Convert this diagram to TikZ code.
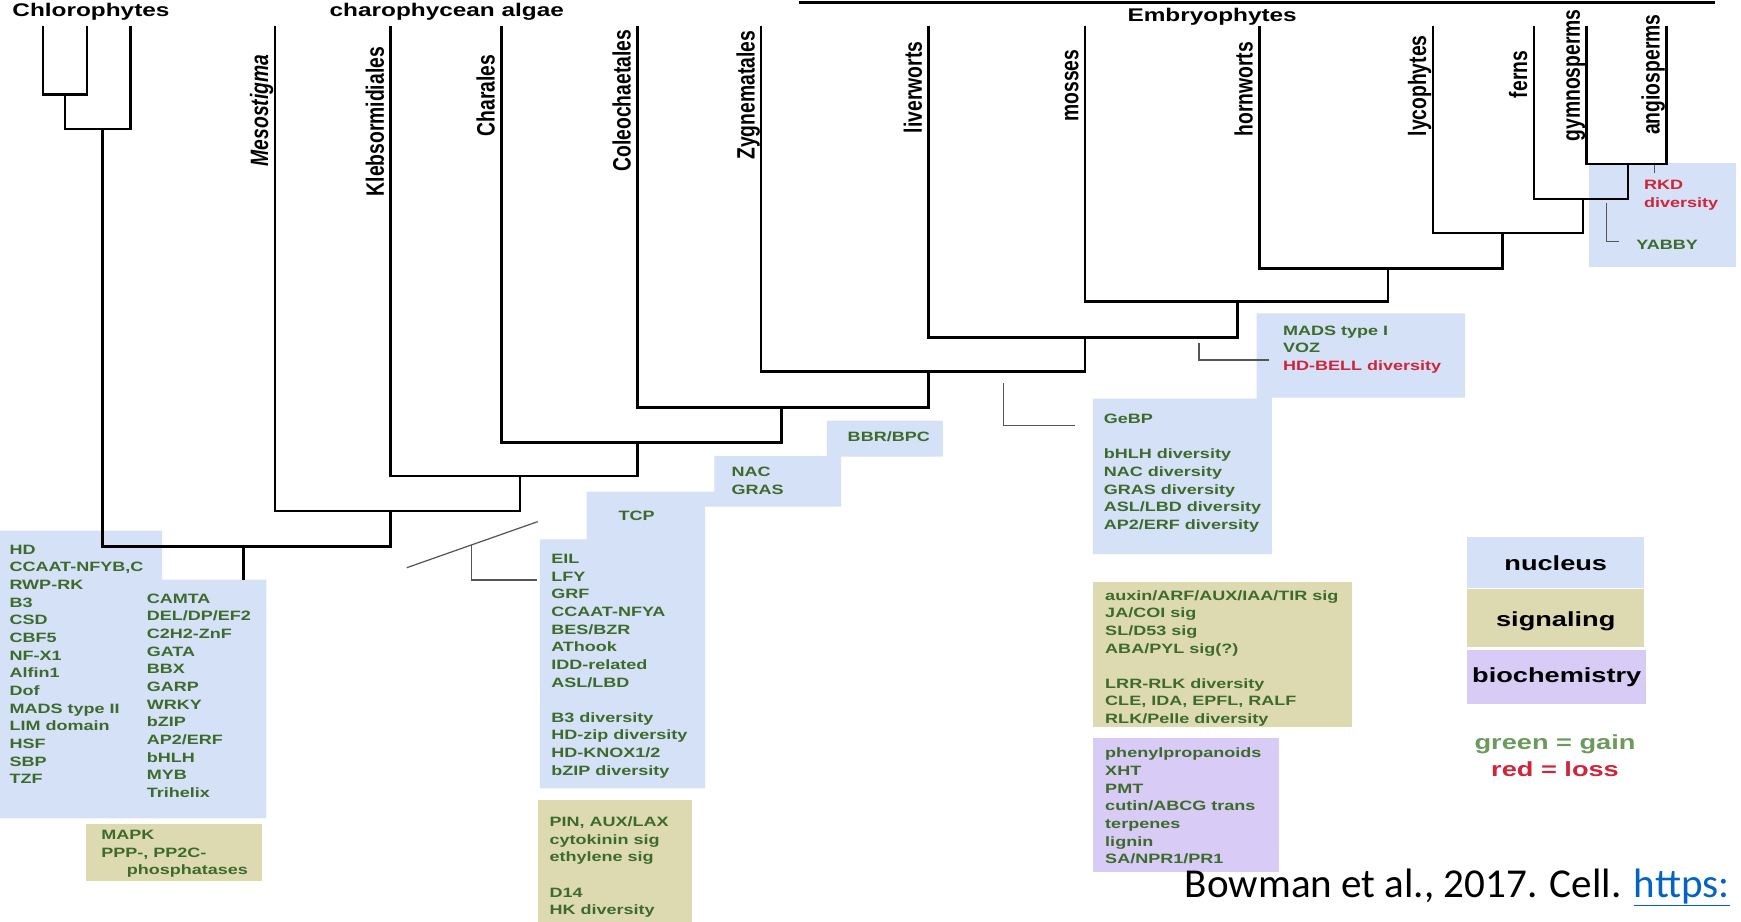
\documentclass[tikz,border=0pt]{standalone}
\usepackage{fontspec}
\usepackage{graphicx}
\usetikzlibrary{calc}
\newfontfamily\figfont[FakeStretch=1.33]{Liberation Sans}
\newfontfamily\tipfont{Liberation Sans}
\newfontfamily\citefont{Carlito}
\definecolor{nucblue}{HTML}{D5E1F6}
\definecolor{sigkhaki}{HTML}{DDDAB2}
\definecolor{biolav}{HTML}{D8CBF5}
\definecolor{gaingreen}{HTML}{3D6B2C}
\definecolor{legendgreen}{HTML}{6A9A5C}
\definecolor{lossred}{HTML}{D0243A}
\definecolor{hintgray}{HTML}{555555}
\definecolor{linkblue}{HTML}{0563C1}
\newcommand{\vstretch}[1]{\scalebox{1}[1.3]{#1}}

\begin{document}
\begin{tikzpicture}[x=1pt, y=-1pt]
  \tikzstyle{tree} = [line width=2.2pt]
  \tikzstyle{hint} = [draw=hintgray, line width=1.1pt]
  \tikzstyle{genes} = [anchor=north west, inner sep=0pt, align=left, text=gaingreen, font=\fontsize{12.2}{15.9}\figfont\bfseries]
  \tikzstyle{tiplabel} = [rotate=90, anchor=base west, inner sep=0pt, font=\fontsize{17.4}{20}\tipfont\bfseries]
  \tikzstyle{clade} = [anchor=base, inner sep=0pt, font=\fontsize{16.5}{20}\figfont\bfseries]
  \tikzstyle{legbox} = [minimum width=159pt, inner sep=0pt, font=\fontsize{18.4}{22}\figfont\bfseries]

  \fill[white] (0,0) rectangle (1568,830);
  \useasboundingbox (0,0) rectangle (1568,830);

  % coloured boxes
  \fill[nucblue] (0,478) -- (146,478) -- (146,522) -- (240,522) -- (240,737) -- (0,737) -- cycle;
  \fill[nucblue] (486.4,710) -- (486.4,485.7) -- (528.3,485.7) -- (528.3,442.8) -- (643.3,442.8) -- (643.3,410.7)
    -- (744.7,410.7) -- (744.7,378.9) -- (849.2,378.9) -- (849.2,411.3) -- (757.5,411.3) -- (757.5,456.3)
    -- (635,456.3) -- (635,710) -- cycle;
  \fill[nucblue] (984.3,499) -- (984.3,359) -- (1131.8,359) -- (1131.8,282.2) -- (1319.5,282.2) -- (1319.5,358)
    -- (1145.4,358) -- (1145.4,499) -- cycle;
  \fill[nucblue] (1431.2,147.1) rectangle (1563.6,240.2);
  \fill[sigkhaki] (77.5,742) rectangle (236,793);
  \fill[sigkhaki] (484.2,720.5) rectangle (623,830);
  \fill[sigkhaki] (984.7,523.9) rectangle (1217.4,654.5);
  \fill[biolav] (984.7,665) rectangle (1152.3,785);

  % tips
  \coordinate (chl1) at (38.9,23);
  \coordinate (chl2) at (78.6,23);
  \coordinate (chl3) at (117.5,23);
  \coordinate (meso) at (247.5,23);
  \coordinate (klebs) at (351.7,23);
  \coordinate (chara) at (451.5,23);
  \coordinate (coleo) at (574,23);
  \coordinate (zygn) at (685.6,23);
  \coordinate (liver) at (836.2,23);
  \coordinate (moss) at (977.2,23);
  \coordinate (horn) at (1134.2,23);
  \coordinate (lyco) at (1290.4,23);
  \coordinate (fern) at (1381.3,23);
  \coordinate (gymno) at (1428.9,23);
  \coordinate (angio) at (1500.8,23);

  % internal nodes
  \coordinate (nCa) at (58.6,85);
  \coordinate (nCb) at (92.4,116.2);
  \coordinate (nGA) at (1466.3,147.7);
  \coordinate (nF) at (1425.5,179.2);
  \coordinate (nL) at (1353.1,209.6);
  \coordinate (nH) at (1250.3,241.7);
  \coordinate (nM) at (1114.6,271.7);
  \coordinate (nLv) at (977.2,303.8);
  \coordinate (nZ) at (836.2,334.7);
  \coordinate (nCo) at (704,366.9);
  \coordinate (nCh) at (574,398.4);
  \coordinate (nK) at (468.4,428.7);
  \coordinate (nMe) at (351.7,460.2);
  \coordinate (nRoot) at (219.4,492.3);
  \coordinate (rootEnd) at (219.4,522);

  \draw[tree] (chl1) |- (nCa);
  \draw[tree] (chl2) |- (nCa);
  \draw[tree] (nCa) |- (nCb);
  \draw[tree] (chl3) |- (nCb);
  \draw[tree] (nCb) |- (nRoot);
  \draw[tree] (nMe) |- (nRoot);
  \draw[tree] (nRoot) -- (rootEnd);
  \draw[tree] (meso) |- (nMe);
  \draw[tree] (nK) |- (nMe);
  \draw[tree] (klebs) |- (nK);
  \draw[tree] (nCh) |- (nK);
  \draw[tree] (chara) |- (nCh);
  \draw[tree] (nCo) |- (nCh);
  \draw[tree] (coleo) |- (nCo);
  \draw[tree] (nZ) |- (nCo);
  \draw[tree] (zygn) |- (nZ);
  \draw[tree] (nLv) |- (nZ);
  \draw[tree] (liver) |- (nLv);
  \draw[tree] (nM) |- (nLv);
  \draw[tree] (moss) |- (nM);
  \draw[tree] (nH) |- (nM);
  \draw[tree] (horn) |- (nH);
  \draw[tree] (nL) |- (nH);
  \draw[tree] (lyco) |- (nL);
  \draw[tree] (nF) |- (nL);
  \draw[tree] (fern) |- (nF);
  \draw[tree] (nGA) |- (nF);
  \draw[tree] (gymno) |- (nGA);
  \draw[tree] (angio) |- (nGA);

  % clade names
  \node[clade] (chloro) at (81.9,14.5) {Chlorophytes};
  \node[clade] (charo) at (402.4,14.5) {charophycean algae};
  \node[clade] (embryo) at (1091.7,19.4) {Embryophytes};
  \coordinate (embL) at (719.9,2.4);
  \coordinate (embR) at (1545,2.4);
  \draw[line width=2.4pt] (embL) -- (embR);

  \node[tiplabel] (lblMeso) at (241.5,150) {\vstretch{\itshape Mesostigma}};
  \node[tiplabel] (lblKlebs) at (345.7,177) {\vstretch{Klebsormidiales}};
  \node[tiplabel] (lblChara) at (445.5,123) {\vstretch{Charales}};
  \node[tiplabel] (lblColeo) at (568,154.6) {\vstretch{Coleochaetales}};
  \node[tiplabel] (lblZygn) at (679.6,144) {\vstretch{Zygnematales}};
  \node[tiplabel] (lblLiver) at (830.2,120) {\vstretch{liverworts}};
  \node[tiplabel] (lblMoss) at (971.2,109.6) {\vstretch{mosses}};
  \node[tiplabel] (lblHorn) at (1128.2,123) {\vstretch{hornworts}};
  \node[tiplabel] (lblLyco) at (1284.4,123) {\vstretch{lycophytes}};
  \node[tiplabel] (lblFern) at (1375.3,88.6) {\vstretch{ferns}};
  \node[tiplabel] (lblGymno) at (1422.9,127.6) {\vstretch{gymnosperms}};
  \node[tiplabel] (lblAngio) at (1494.8,121.6) {\vstretch{angiosperms}};

  % gene lists
  \node[genes] (nucA) at (8.4,487.8) {\strut HD\\CCAAT-NFYB,C\\RWP-RK\\B3\\CSD\\CBF5\\NF-X1\\Alfin1\\Dof\\MADS type II\\LIM domain\\HSF\\SBP\\TZF};
  \node[genes] (nucB) at (132,532) {\strut CAMTA\\DEL/DP/EF2\\C2H2-ZnF\\GATA\\BBX\\GARP\\WRKY\\bZIP\\AP2/ERF\\bHLH\\MYB\\Trihelix};
  \node[genes] (sigA) at (91,744.7) {\strut MAPK\\PPP-, PP2C-\\\hspace*{23pt}phosphatases};
  \node[genes] (tcp) at (556.9,457) {\strut TCP};
  \node[genes] (nucC) at (496.3,496.1) {\strut EIL\\LFY\\GRF\\CCAAT-NFYA\\BES/BZR\\AThook\\IDD-related\\ASL/LBD\\[15.9pt]B3 diversity\\HD-zip diversity\\HD-KNOX1/2\\bZIP diversity};
  \node[genes] (sigB) at (494.8,733.2) {\strut PIN, AUX/LAX\\cytokinin sig\\ethylene sig\\[15.9pt]D14\\HK diversity};
  \node[genes] (nacgras) at (658.7,418) {\strut NAC\\GRAS};
  \node[genes] (bbr) at (763.3,386.5) {\strut BBR/BPC};
  \node[genes] (gebp) at (994,370) {\strut GeBP\\[15.9pt]bHLH diversity\\NAC diversity\\GRAS diversity\\ASL/LBD diversity\\AP2/ERF diversity};
  \node[genes] (mads) at (1155.3,290.4) {\strut MADS type I\\VOZ\\\textcolor{lossred}{HD-BELL diversity}};
  \node[genes, text=lossred] (rkd) at (1480.5,159.2) {\strut RKD\\diversity};
  \node[genes] (yabby) at (1473.6,213.2) {\strut YABBY};
  \node[genes] (sigC) at (995.2,529.1) {\strut auxin/ARF/AUX/IAA/TIR sig\\JA/COI sig\\SL/D53 sig\\ABA/PYL sig(?)\\[15.9pt]LRR-RLK diversity\\CLE, IDA, EPFL, RALF\\RLK/Pelle diversity};
  \node[genes] (bioA) at (995.2,671.1) {\strut phenylpropanoids\\XHT\\PMT\\cutin/ABCG trans\\terpenes\\lignin\\SA/NPR1/PR1};

  % pointers to the gene lists
  \coordinate (dgA) at (366.3,511.3);
  \coordinate (dgB) at (484.3,469.8);
  \coordinate (dgK) at ($(dgA)!0.496!(dgB)$);
  \coordinate (dgE) at (484,522.4);
  \draw[hint] (dgA) -- (dgB);
  \draw[hint] (dgK) |- (dgE);
  \coordinate (geA) at (903.9,345.2);
  \coordinate (geB) at (968.2,383.1);
  \draw[hint] (geA) |- (geB);
  \coordinate (hbA) at (1079.9,309.2);
  \coordinate (hbB) at (1143.2,324.2);
  \draw[hint] (hbA) |- (hbB);
  \coordinate (yaA) at (1446.5,183.1);
  \coordinate (yaB) at (1458.4,217.7);
  \draw[hint] (yaA) |- (yaB);
  \coordinate (rkA) at (1490,149);
  \coordinate (rkB) at (1490,155.5);
  \draw[hint] (rkA) -- (rkB);

  % legend
  \node[legbox, fill=nucblue, minimum height=46.5pt, text height=15pt, text depth=0pt] (legNuc) at (1401.15,506.65) {nucleus};
  \node[legbox, fill=sigkhaki, minimum height=51.6pt, text height=15pt, text depth=0pt] (legSig) at (1401.15,556.6) {signaling};
  \node[legbox, fill=biolav, minimum width=160.9pt, minimum height=49pt] (legBio) at (1402.05,609.9) {biochemistry};
  \node[legbox, text=legendgreen] (legGain) at (1400.5,670) {green = gain};
  \node[legbox, text=lossred] (legLoss) at (1400.5,692.9) {red = loss};

  \node[anchor=base west, inner sep=0pt, font=\fontsize{37}{40}\citefont] (cite) at (1067,808) {Bowman et al., 2017. Cell. \textcolor{linkblue}{\underline{https:}}};

\end{tikzpicture}
\end{document}
